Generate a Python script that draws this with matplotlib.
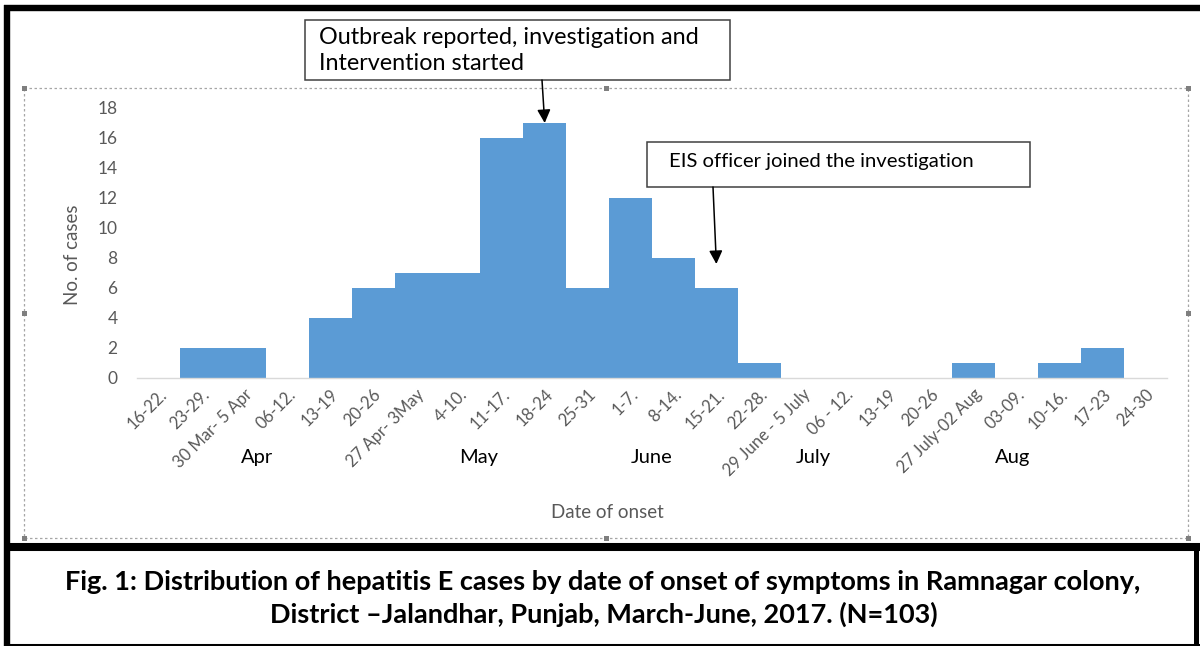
import matplotlib
matplotlib.use("Agg")
import matplotlib.pyplot as plt
from matplotlib.patches import Rectangle

# Weekly counts of hepatitis E cases by date of onset
week_labels = [
    "16-22.", "23-29.", "30 Mar- 5 Apr", "06-12.", "13-19", "20-26",
    "27 Apr- 3May", "4-10.", "11-17.", "18-24", "25-31", "1-7.", "8-14.",
    "15-21.", "22-28.", "29 June - 5 July", "06 - 12.", "13-19", "20-26",
    "27 July-02 Aug", "03-09.", "10-16.", "17-23", "24-30",
]
case_counts = [0, 2, 2, 0, 4, 6, 7, 7, 16, 17, 6, 12, 8, 6, 1,
               0, 0, 0, 0, 1, 0, 1, 2, 0]
y_ticks = [0, 2, 4, 6, 8, 10, 12, 14, 16, 18]

month_names = ["Apr", "May", "June", "July", "Aug"]
month_centers = [2.3, 7.45, 11.5, 15.25, 19.9]

outbreak_week = 9   # "18-24" May
eis_week = 13       # "15-21." June

W, H = 1200, 646
BLUE = "#5b9bd5"
GREY_TXT = "#595959"
FONT = "Lato"

fig = plt.figure(figsize=(W / 100, H / 100), dpi=100)
fig.patch.set_facecolor("white")

# Full-figure overlay in pixel coordinates for frames, boxes and captions
ov = fig.add_axes([0, 0, 1, 1], zorder=0)
ov.set_xlim(0, W)
ov.set_ylim(H, 0)
ov.axis("off")
ov.patch.set_alpha(0)

# Chart axes
ax_left, ax_right, ax_top, ax_bot = 137, 1167, 108, 378
ax = fig.add_axes([ax_left / W, 1 - ax_bot / H,
                   (ax_right - ax_left) / W, (ax_bot - ax_top) / H], zorder=2)
ax.patch.set_alpha(0)

x = list(range(len(case_counts)))
ax.bar(x, case_counts, width=1.0, color=BLUE, edgecolor="none", zorder=2)
ax.set_xlim(-0.5, len(case_counts) - 0.5)
ax.set_ylim(0, 18)
ax.set_yticks(y_ticks)
ax.set_yticklabels([str(v) for v in y_ticks], fontsize=12.5, color=GREY_TXT,
                   family=FONT)
ax.tick_params(axis="y", length=0, pad=14)
ax.set_xticks(x)
ax.set_xticklabels(week_labels, rotation=45, ha="right", va="top",
                   rotation_mode="anchor", fontsize=12, color=GREY_TXT,
                   family=FONT)
ax.tick_params(axis="x", length=0, pad=6)
for side in ("top", "right", "left"):
    ax.spines[side].set_visible(False)
ax.spines["bottom"].set_color("#d9d9d9")
ax.spines["bottom"].set_linewidth(1.0)

# Month labels under the week labels
for name, pos in zip(month_names, month_centers):
    ax.text(pos, -0.295, name, transform=ax.get_xaxis_transform(),
            ha="center", va="center", fontsize=14.5, color="black",
            family=FONT)

# Axis titles
ov.text(72, 255, "No. of cases", rotation=90, ha="center", va="center",
        fontsize=13.5, color=GREY_TXT, family=FONT)
ov.text(607, 513, "Date of onset", ha="center", va="center",
        fontsize=13.5, color=GREY_TXT, family=FONT)

# Dotted chart-area border with handles
ov.add_patch(Rectangle((24, 88), 1164, 450, fill=False, ec="#a6a6a6",
                       lw=0.9, ls=(0, (2, 2))))
for hx, hy in [(24, 88), (606, 88), (1188, 88), (24, 313), (1188, 313),
               (24, 538), (606, 538), (1188, 538)]:
    ov.add_patch(Rectangle((hx - 2.5, hy - 2.5), 5, 5, fc="#7f7f7f",
                           ec="none"))

# Black outer frame
ov.plot([4, W], [7.5, 7.5], color="black", lw=4.6, solid_capstyle="butt")
ov.plot([7, 7], [5, H], color="black", lw=4.6, solid_capstyle="butt")
# Caption box
ov.plot([4, W], [547, 547], color="black", lw=5.8, solid_capstyle="butt")
ov.plot([1195.5, 1195.5], [544, H], color="black", lw=3.6,
        solid_capstyle="butt")
ov.plot([4, W], [644.5, 644.5], color="black", lw=2.2, solid_capstyle="butt")

ov.text(603, 582, "Fig. 1: Distribution of hepatitis E cases by date of onset "
        "of symptoms in Ramnagar colony,", ha="center", va="center",
        fontsize=19.5, fontweight="bold", color="black", family=FONT)
ov.text(604, 614, "District \u2013Jalandhar, Punjab, March-June, 2017. (N=103)",
        ha="center", va="center", fontsize=19.5, fontweight="bold",
        color="black", family=FONT)

# Annotation boxes with arrows
ov.add_patch(Rectangle((305, 20), 425, 60, fc="white", ec="#404040", lw=1.1,
                       zorder=3))
ov.text(319, 37, "Outbreak reported, investigation and", ha="left",
        va="center", fontsize=16.8, color="black", family=FONT, zorder=4)
ov.text(319, 64, "Intervention started", ha="left", va="center",
        fontsize=16.8, color="black", family=FONT, zorder=4)

ov.add_patch(Rectangle((647, 142), 383, 45, fc="white", ec="#404040", lw=1.1,
                       zorder=3))
ov.text(669, 162, "EIS officer joined the investigation", ha="left",
        va="center", fontsize=14.6, color="black", family=FONT, zorder=4)

arrow_style = dict(arrowstyle="-|>", color="black", lw=1.1,
                   mutation_scale=20, shrinkA=0, shrinkB=0)
ax.annotate("", xy=(outbreak_week, case_counts[outbreak_week]),
            xytext=(542, H - 80), textcoords="figure pixels",
            arrowprops=arrow_style, annotation_clip=False)
ax.annotate("", xy=(eis_week, case_counts[eis_week] + 1.6),
            xytext=(713, H - 187), textcoords="figure pixels",
            arrowprops=arrow_style, annotation_clip=False)

fig.savefig("out.png", dpi=100, facecolor="white")
